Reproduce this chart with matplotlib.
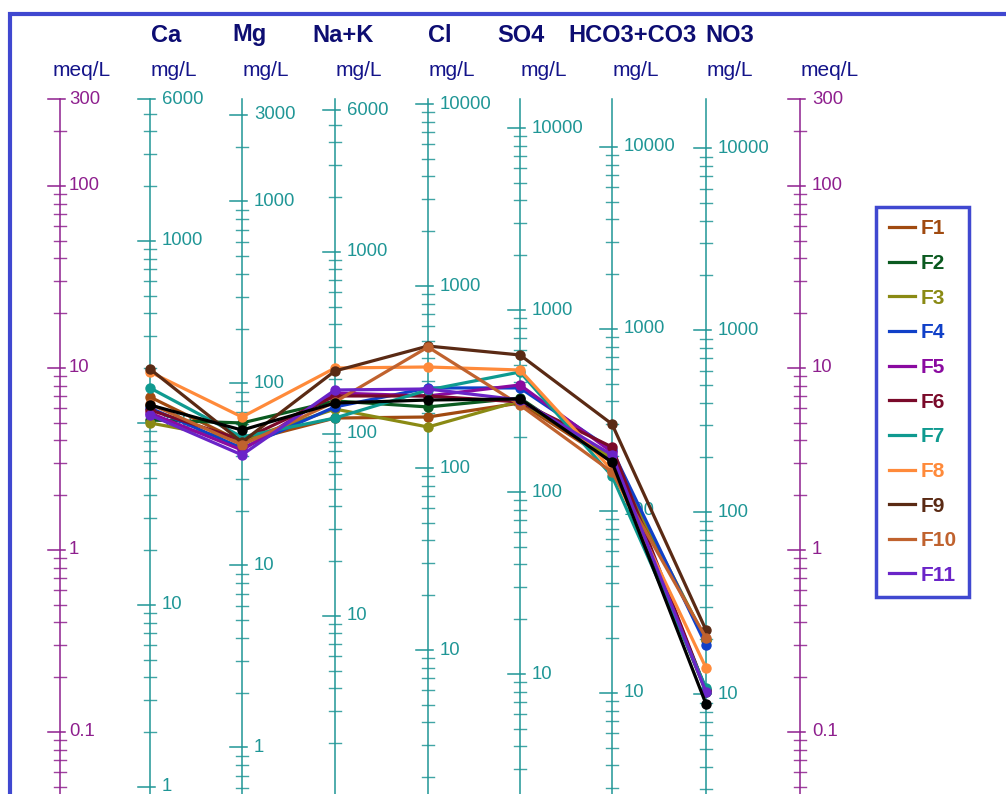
import numpy as np
import matplotlib
matplotlib.use("Agg")
import matplotlib.pyplot as plt
from matplotlib.lines import Line2D
from matplotlib.patches import Rectangle

plt.rcParams['font.family'] = ['Liberation Sans', 'DejaVu Sans']

ions = ["Ca", "Mg", "Na+K", "Cl", "SO4", "HCO3+CO3", "NO3"]
eq_weight = [20.04, 12.15, 23.0, 35.45, 48.03, 61.02, 62.0]   # mg per meq
top_labels = [6000, 3000, 6000, 10000, 10000, 10000, 10000]    # mg/L
meq_labels = [300, 100, 10, 1, 0.1]

# concentrations in meq/L, same order as `ions`
F1 = [6.93, 3.92, 5.31, 5.38, 6.42, 3.04, 0.320]
F2 = [5.18, 4.99, 6.59, 6.11, 6.84, 3.12, 0.166]
F3 = [4.99, 4.02, 5.95, 4.74, 6.59, 3.20, 0.320]
F4 = [6.03, 3.63, 6.11, 7.77, 7.77, 3.54, 0.301]
F5 = [5.66, 3.54, 7.29, 7.02, 8.07, 3.45, 0.170]
F6 = [5.88, 4.02, 7.02, 7.02, 6.51, 3.68, 0.170]
F7 = [7.77, 4.18, 5.31, 7.57, 9.51, 2.55, 0.175]
F8 = [9.51, 5.38, 10.0, 10.13, 9.75, 2.75, 0.225]
F9 = [9.87, 3.92, 9.63, 13.2, 11.79, 4.92, 0.363]
F10 = [6.34, 3.78, 6.51, 13.04, 6.26, 2.68, 0.329]
F11 = [5.52, 3.33, 7.57, 7.67, 6.67, 3.33, 0.166]
mean_sample = [6.26, 4.56, 6.42, 6.67, 6.76, 3.04, 0.1425]

names = ["F1", "F2", "F3", "F4", "F5", "F6", "F7", "F8", "F9", "F10", "F11"]
samples = [F1, F2, F3, F4, F5, F6, F7, F8, F9, F10, F11]
colors = ["#a04a10", "#0b5a20", "#8a8a14", "#1040c8", "#8a0aa0", "#7a0a2a",
          "#0f9a90", "#ff8a3a", "#5a2a14", "#c0622e", "#6a24c8"]

W, H = 1006, 794
fig = plt.figure(figsize=(W / 100, H / 100), dpi=100)
ax = fig.add_axes([0, 0, 1, 1])
ax.set_yscale("log")
ax.set_xlim(0, W)
# 1 meq/L sits at pixel row 550, one decade = 182 px
ax.set_ylim(10 ** (-(H - 550) / 182), 10 ** (550 / 182))
ax.axis("off")

axis_x = [150, 242, 335, 428, 520, 612, 706]
meq_x = [60, 800]
TOP = 300.0
BOTTOM = ax.get_ylim()[0]

purple = "#8e1f8e"
teal = "#1f9696"
navy = "#0d0d72"


def draw_scale(x, factor, color, labels, lab_dx):
    ax.plot([x, x], [TOP, BOTTOM], color=color, lw=1.1, zorder=1)
    lo = np.floor(np.log10(BOTTOM * factor)) - 1
    hi = np.ceil(np.log10(TOP * factor)) + 1
    for n in range(int(lo), int(hi) + 1):
        for k in range(1, 10):
            v = k * 10.0 ** n
            m = v / factor
            if m < BOTTOM or m > TOP * 1.01:
                continue
            major = k == 1 or any(abs(v - l) < 1e-9 for l in labels)
            if major:
                ax.plot([x - 12, x + 5], [m, m], color=color, lw=1.1, zorder=1)
            else:
                ax.plot([x - 6, x + 6], [m, m], color=color, lw=1.0, alpha=0.85, zorder=1)
    for l in labels:
        m = l / factor
        if BOTTOM < m <= TOP * 1.01:
            txt = f"{l:g}"
            ax.text(x + lab_dx, m, txt, color=color, fontsize=13.3,
                    va="center", ha="left", zorder=1)


for x in meq_x:
    draw_scale(x, 1.0, purple, meq_labels, 9 if x == 60 else 12)

for x, w, top in zip(axis_x, eq_weight, top_labels):
    labs = [top] + [10.0 ** n for n in range(0, 5) if 10.0 ** n < top]
    draw_scale(x, w, teal, labs, 12)

# sample profiles
for vals, c in zip(samples, colors):
    ax.plot(axis_x, vals, color=c, lw=2.3, marker="o", ms=6.5, zorder=3)
ax.plot(axis_x, mean_sample, color="black", lw=2.3, marker="o", ms=6.5, zorder=4)

# headers
title_cx = [166, 249, 343, 440, 521, 633, 730]
for cx, name in zip(title_cx, ions):
    fig.text(cx / W, 1 - 35 / H, name, fontsize=17, fontweight="bold",
             color=navy, ha="center", va="center")
for cx in [a + 24 for a in axis_x]:
    fig.text(cx / W, 1 - 70 / H, "mg/L", fontsize=15, color="#14148a",
             ha="center", va="center")
for cx in [82, 830]:
    fig.text(cx / W, 1 - 70 / H, "meq/L", fontsize=15, color="#14148a",
             ha="center", va="center")

# outer frame
fig.add_artist(Rectangle((10 / W, -0.2), 2, 1.2 - 14 / H, transform=fig.transFigure,
                         fill=False, edgecolor="#4048d0", lw=3))

handles = [Line2D([], [], color=c, lw=2.3) for c in colors]
leg = ax.legend(handles, names, loc="upper left",
                bbox_to_anchor=(876 / W, 1 - 207 / H), bbox_transform=fig.transFigure,
                frameon=True, fancybox=False, edgecolor="#4048d0", framealpha=1,
                prop=dict(weight="bold", size=15), labelcolor="linecolor",
                handlelength=1.25, handletextpad=0.3, labelspacing=0.75,
                borderpad=0.6, borderaxespad=0)
leg.get_frame().set_linewidth(2.5)
leg.set_zorder(5)

fig.savefig("out.png", dpi=100)
